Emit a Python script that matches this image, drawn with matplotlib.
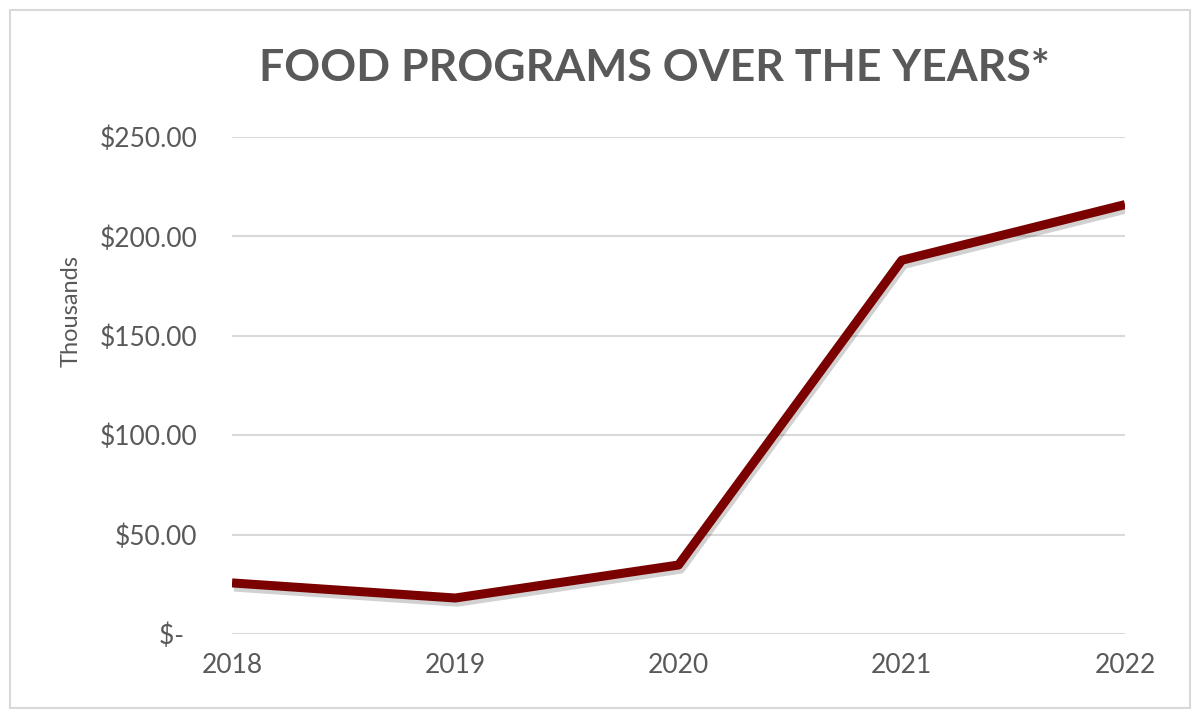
import matplotlib
matplotlib.use("Agg")
import matplotlib.pyplot as plt
import matplotlib.patheffects as pe
from matplotlib.patches import Rectangle

years = ["2018", "2019", "2020", "2021", "2022"]
amounts = [25.7, 18.1, 34.7, 188.0, 216.0]
yticks = [0, 50, 100, 150, 200, 250]
ylabels = ["$-\u00a0\u00a0", "$50.00", "$100.00", "$150.00", "$200.00", "$250.00"]

plt.rcParams["font.family"] = ["Lato", "DejaVu Sans"]

fig = plt.figure(figsize=(12, 7.2), dpi=100)
fig.patches.append(Rectangle((10 / 1200, 12 / 720), 1180 / 1200, 698 / 720,
                             transform=fig.transFigure, fill=False,
                             edgecolor="#d9d9d9", linewidth=1.5))
ax = fig.add_axes([232 / 1200, (720 - 634) / 720, (1125 - 232) / 1200, (634 - 137) / 720])

x = list(range(len(years)))
ax.plot(x, amounts, color="#7b0000", linewidth=6.5, solid_capstyle="butt",
        path_effects=[pe.SimpleLineShadow(offset=(1.5, -3), shadow_color="#000000", alpha=0.18),
                      pe.Normal()], zorder=3)

ax.set_xlim(0, 4)
ax.set_ylim(0, 250)
ax.set_yticks(yticks)
ax.set_yticklabels(ylabels)
ax.set_xticks(x)
ax.set_xticklabels(years)
ax.grid(axis="y", color="#d9d9d9", linewidth=1.5)
ax.set_axisbelow(True)
for s in ax.spines.values():
    s.set_visible(False)
ax.tick_params(length=0, labelsize=19, labelcolor="#595959")
ax.tick_params(axis="y", pad=25)
ax.tick_params(axis="x", pad=14)
ax.set_ylabel("Thousands", fontsize=17, color="#595959")
ax.yaxis.set_label_coords(-0.168, 0.65)

fig.text(0.545, 1 - 68 / 720, "FOOD PROGRAMS OVER THE YEARS*", ha="center", va="center",
         fontsize=32, fontweight="bold", color="#595959")

fig.savefig("out.png", dpi=100, facecolor="white")
